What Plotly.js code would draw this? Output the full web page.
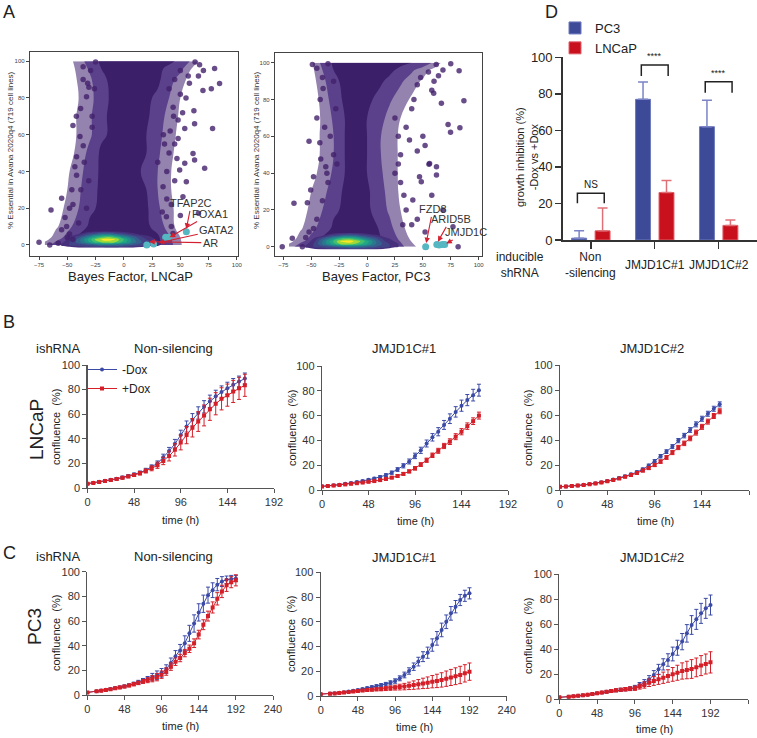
<!DOCTYPE html>
<html>
<head>
<meta charset="utf-8">
<script src="https://cdn.plot.ly/plotly-3.0.1.min.js"></script>
<style>html,body{margin:0;padding:0;background:#fff}#fig{width:757px;height:738px}</style>
</head>
<body>
<div id="fig"></div>
<script>
// ---- panel A: essentiality vs Bayes factor (point density) ----
var densX = [-70,-60,-50,-40,-30,-20,-10,0,10,20,30,40,50,60,70];
var densY = [0,4,10,20,30,40,50,60,70,80,90,96,100];
var densLNCaP = [
  [.5,.8,1,1,1,1,1,1,1,1,1,.8,.4,0,0],
  [.15,.5,.75,1,1,1,1,1,1,1,1,.7,.35,0,0],
  [0,.3,.55,.8,1,1,1,1,1,1,.85,.5,.2,0,0],
  [0,.15,.45,.65,.9,1,1,1,1,1,.7,.45,.2,.05,0],
  [0,.05,.35,.6,.85,1,1,1,1,.95,.65,.4,.15,.05,0],
  [0,0,.3,.55,.8,1,1,1,1,.9,.65,.4,.15,.05,0],
  [0,0,.2,.45,.75,1,1,1,1,.95,.7,.45,.2,.05,0],
  [0,0,.15,.4,.6,.9,1,1,1,.95,.75,.5,.25,.1,0],
  [0,0,.15,.4,.6,.9,1,1,1,1,.8,.55,.3,.1,0],
  [0,0,.1,.35,.55,.85,1,1,1,1,.9,.65,.35,.15,0],
  [0,0,.1,.4,.6,.9,1,1,1,1,1,.8,.5,.2,.05],
  [0,0,.15,.45,.7,.95,1,1,1,1,1,.9,.75,.35,.1],
  [0,0,.2,.5,.8,1,1,1,1,1,1,1,.9,.6,.2]
];
var densPC3 = [
  [.5,.8,1,1,1,1,1,1,1,.95,.75,.45,.2,0,0],
  [.15,.5,.75,1,1,1,1,1,1,.85,.6,.3,.1,0,0],
  [0,.3,.55,.8,1,1,1,1,.95,.75,.45,.2,.05,0,0],
  [0,.15,.45,.65,.9,1,1,1,.85,.6,.35,.15,.05,0,0],
  [0,.05,.35,.55,.8,1,1,1,.8,.55,.3,.15,.05,0,0],
  [0,0,.25,.45,.7,.95,1,.95,.75,.5,.3,.15,.05,0,0],
  [0,0,.2,.4,.65,.95,1,.95,.7,.5,.3,.15,.05,0,0],
  [0,0,.2,.4,.65,.95,1,.95,.7,.5,.3,.15,.05,0,0],
  [0,0,.15,.4,.7,.95,1,.95,.8,.55,.35,.2,.05,0,0],
  [0,0,.15,.45,.8,1,1,1,.9,.7,.5,.3,.15,.05,0],
  [0,0,.2,.55,.9,1,1,1,1,.9,.7,.5,.3,.15,0],
  [0,0,.25,.65,.95,1,1,1,1,1,.9,.7,.5,.25,.05],
  [0,0,.3,.75,1,1,1,1,1,1,1,.95,.85,.6,.2]
];
// bright core near zero
var blobX = [-56,-48,-40,-32,-24,-16,-8,0,8,16,24,32,40];
var blobY = [-1.5,0,1.5,3,4.5,6,7.5];
var blobLNCaP = [
  [0,.1,.15,.2,.2,.2,.2,.2,.15,.1,0,0,0],
  [.15,.25,.3,.35,.4,.45,.45,.4,.35,.3,.25,.15,.1],
  [.1,.25,.4,.6,.8,.9,.85,.7,.5,.35,.25,.15,.05],
  [.05,.2,.4,.65,.9,1,.95,.75,.5,.3,.2,.1,0],
  [0,.15,.3,.5,.7,.8,.75,.55,.4,.25,.15,.05,0],
  [0,.05,.15,.3,.4,.45,.4,.3,.2,.1,.05,0,0],
  [0,0,0,.1,.15,.2,.15,.1,.05,0,0,0,0]
];
var blobPC3 = [
  [0,.1,.15,.2,.2,.2,.2,.2,.15,.1,0,0,0],
  [.15,.25,.3,.35,.4,.45,.45,.4,.35,.3,.2,.1,.05],
  [.1,.25,.45,.65,.85,.9,.8,.65,.45,.3,.2,.1,0],
  [.05,.2,.45,.7,.95,1,.9,.7,.45,.25,.15,.05,0],
  [0,.15,.35,.55,.75,.8,.7,.5,.35,.2,.1,0,0],
  [0,.05,.15,.3,.4,.45,.4,.3,.2,.1,0,0,0],
  [0,0,0,.1,.15,.2,.15,.1,.05,0,0,0,0]
];
var outLNCaPx = [84.7,80.3,77.4,70,78.5,62.6,62,53.9,62.6,53.9,43.6,-38.2,-33,-38.8,-35.9,-41.8,-43.3,-29.4,-28,-30.9,70.4,-75,-65.5,-64.4,-41.8,-55,-50.6,-55,52.3,55.3,66,37.7,43.5,34.7,49.4,61.2,71.5,-46,-48,45,48,58,66,-36,-25,63,67,50,42,-45,-58,
  -45,-42,40,45,50,35,40,30,-38,-45,-52,-48,42,38,45,-32,-36,55,52,48,
  -35,-33,-40,-28,-26,38,36,44,50,57,34,-50,-31,41,47];
var outLNCaPy = [87.9,96,85,84,63.4,66,73,63.4,46.2,44.4,75,74.3,80.6,59,54,48,42.6,95,64,85.8,95,1.5,0,19,38,25.4,10,8.3,26.2,34.4,17.2,15.4,6.3,31.7,40.8,49.8,41.7,30,20,55,68,88,92,90,99.5,99.5,98,16,22,3,1,
  65,70,85,90,95,60,50,45,30,22,15,6,10,25,35,88,97,80,72,58,
  45,20,12,70,85,40,55,70,82,92,18,4,35,62,47];
var outPC3x = [-49,82.5,86.8,72.6,83.2,74.8,-52,-42.3,-39.4,-41.5,62.2,56,59.7,66.6,-37,47,-76,-67,-65.5,-53.5,-50.5,-58,62.2,55.5,48.6,41,68,81.6,77,-45,-40,60,68,75,-35,50,45,-45,40,52,-48,58,
  -42,-38,-30,-35,-48,30,35,40,45,55,62,30,35,45,-55,-28,28,-45,52,25,
  -33,-36,-27,-40,25,28,33,38,42,48,-52,-30,32,58,64];
var outPC3y = [99.1,95.7,79.3,66.5,64.7,62.3,57.3,56.5,86,47.7,43.5,45.3,83.4,78,43.5,38,0,4.6,23.6,24,30.8,0,39,44.8,35.3,25.4,20,0,10.9,70,92,90,96,99.5,99.5,60,52,15,12,8,38,28,
  80,65,50,35,10,50,65,75,88,95,99,35,20,15,5,75,60,97,55,40,
  60,40,45,25,70,45,28,58,80,92,8,90,12,85,93];
var hiLNCaPx = [55.3,37,39.5,20.3,26.4];
var hiLNCaPy = [7.2,4.2,4.2,0,0.5];
var hiPC3x = [52.5,62.5,64.5,67.5,69.6];
var hiPC3y = [0,1.3,1.0,1.3,1.3];
var genesLNCaP = ['TFAP2C','FOXA1','GATA2','AR'];
var genesPC3 = ['FZD8','ARID5B','JMJD1C'];

// ---- panel D: growth inhibition ----
var shCats = ['Non<br>-silencing','JMJD1C#1','JMJD1C#2'];
var pc3Inhib = [1, 77, 62];
var pc3Err = [4, 9.5, 14.5];
var lncapInhib = [5, 26, 8];
var lncapErr = [12.5, 6.5, 3];
var sigText = ['NS','****','****'];

// ---- panels B / C: confluence time courses ----
var tB = [0,6,12,18,24,30,36,42,48,54,60,66,72,78,84,90,96,102,108,114,120,126,132,138,144,150,156,162];
var tC = [0,12,18,24,30,36,42,48,54,60,66,72,78,84,90,96,102,108,114,120,126,132,138,144,150,156,162,168,174,180,186,192];

var lnNsMinus = [3.5,4.2,5,5.8,6.8,7.6,8.6,9.8,11,12.5,14.5,17,20,25,30,36,43,50,55.5,61,66,70.5,74.5,78,81,84,86.5,89];
var lnNsMinusE = [0.5,0.5,0.6,0.7,0.8,0.9,1,1,1.2,1.3,1.5,1.8,2,2.5,3,3.5,4,4.5,5,5,5,5,5,5,5,5,4.5,4.5];
var lnNsPlus = [3.5,4.1,4.8,5.6,6.5,7.3,8.3,9.4,10.6,12,13.8,16,18.5,22,26,31,37,43,49,54,59,64,68.5,72.5,75.5,78.5,81,83.5];
var lnNsPlusE = [0.5,0.5,0.6,0.7,0.8,0.9,1,1,1.2,1.4,1.6,2,2.5,3,4,5,6,7,7.5,8,8.5,9,9,9,9,9,9,9];

var ln1Minus = [3,3.3,3.8,4.3,5,5.7,6.5,7.3,8.2,9.3,10.5,12,14,16.5,19.5,23,27.5,32,37.5,42.5,47,52.5,57.5,63,68,72.5,76.5,80.5];
var ln1MinusE = [0.4,0.4,0.4,0.5,0.5,0.6,0.6,0.7,0.8,0.9,1,1.1,1.3,1.5,1.7,2,2.2,2.5,2.8,3,3.3,3.6,3.9,4.2,4.5,4.5,4.7,4.8];
var ln1Plus = [2.8,3.2,3.6,4,4.5,5,5.5,6,6.6,7.2,8,8.9,10,11.3,13,15,17.5,20.5,24,28,31.6,35.5,39,43,47,51.5,55.5,60];
var ln1PlusE = [0.3,0.3,0.3,0.4,0.4,0.4,0.5,0.5,0.6,0.6,0.7,0.8,0.9,1,1.1,1.2,1.4,1.5,1.7,1.8,2,2.1,2.3,2.4,2.5,2.6,2.7,2.8];

var ln2Minus = [2.5,2.8,3.2,3.6,4.1,4.7,5.4,6.2,7.2,8.3,9.6,11,12.5,14.3,16.5,19.5,23,27,30.7,34.7,39.5,43.5,48,52.5,57,61,65,68.5];
var ln2MinusE = [0.3,0.3,0.3,0.4,0.4,0.4,0.5,0.5,0.6,0.6,0.7,0.8,0.9,1,1.1,1.2,1.3,1.4,1.5,1.6,1.7,1.8,1.9,2,2,2,2,2];
var ln2Plus = [2.5,2.8,3.1,3.5,4,4.6,5.2,6,7,8,9.2,10.5,12,13.5,15.5,17.5,20,22.7,26,29.9,34,37.3,41.3,45.9,50.5,54.7,59.2,63];
var ln2PlusE = [0.3,0.3,0.3,0.4,0.4,0.4,0.5,0.5,0.6,0.6,0.7,0.8,0.9,1,1.1,1.2,1.3,1.4,1.5,1.6,1.7,1.8,1.9,2,2,2,2,2];

var pcNsMinus = [2,3,3.6,4.2,4.9,5.6,6.3,7,8,9.2,10.5,11.8,13,14.5,16,18,21,26,31.5,36,42,50,58,67,74,81,85,89.5,92,93.5,94,94.5];
var pcNsMinusE = [0.5,0.5,0.5,0.6,0.7,0.8,0.9,1,1,1.2,1.4,1.6,2,3,3.5,3.5,3.5,4,4.5,5,6,6.5,7,7,7,6.5,6,5,4,3,3,2.5];
var pcNsPlus = [2,3,3.5,4.1,4.7,5.4,6.1,6.8,7.7,8.7,9.8,11,12,13.2,14.5,16.5,19,23,27,30,34,37.5,42,49,57,64,71,78,84,89,91.5,93];
var pcNsPlusE = [0.5,0.5,0.5,0.6,0.7,0.8,0.9,1,1,1.2,1.4,1.6,2,2.5,3,3,3,3,3,3,3,3,3.5,3.5,4,4,4.5,5,5,5,4.5,4.5];

var pc1Minus = [1.5,2,2.3,2.7,3.1,3.6,4.2,4.9,5.6,6.4,7.2,8,8.8,9.6,10.7,12.1,14.3,17,20.2,23.7,27.8,31.8,35,41.2,46.6,53.4,60,66.8,72.2,77.6,81,83];
var pc1MinusE = [0.3,0.3,0.4,0.4,0.5,0.5,0.6,0.7,0.8,0.9,1,1.1,1.2,1.4,1.6,1.8,2,2.3,2.6,3,3.5,4,4.5,5,5.5,5.5,5.5,5.5,5,4.5,4.5,4.5];
var pc1Plus = [1.5,1.8,2.1,2.4,2.8,3.2,3.6,4,4.4,4.8,5.1,5.4,5.6,6,6.4,6.8,7.2,7.6,8.2,8.8,9.5,10.2,10.8,11.6,12.2,13,14,15,16,17,18.3,19.7];
var pc1PlusE = [0.3,0.3,0.4,0.4,0.5,0.5,0.6,0.7,0.8,0.9,1,1.2,1.4,1.6,1.8,2,2.3,2.6,3,3.4,3.8,4.2,4.6,5,5.4,5.8,6.2,6.5,6.8,7,7,7];

var pc2Minus = [1.3,1.8,2.1,2.5,2.9,3.4,3.9,4.5,5.1,5.7,6.3,6.9,7.3,7.8,8.3,9.2,11.2,13,15.7,19.2,23.7,27.7,31.2,36,41,45.9,52.5,59.2,63.7,68.5,72.5,75.2];
var pc2MinusE = [0.3,0.3,0.4,0.4,0.5,0.5,0.6,0.7,0.8,0.9,1,1.1,1.2,1.3,1.5,1.7,2,2.5,3,3.5,4,4.5,5,5.5,6,6.5,7,7.5,8,8,8,8];
var pc2Plus = [1.3,1.8,2.1,2.5,2.9,3.4,3.9,4.5,5.1,5.7,6.3,6.9,7.4,7.8,8.2,8.6,9.9,11.2,13,14.4,15.7,17,18.4,19.7,21,22.4,23.2,24,25.3,26.7,28,29.3];
var pc2PlusE = [0.3,0.3,0.4,0.4,0.5,0.5,0.6,0.7,0.8,0.9,1,1.1,1.2,1.3,1.5,1.7,2,2.5,3,3.5,4,4.5,5,5.5,6,6.5,7,7.5,7.5,8,8,8.5];

var W = 757, H = 738;
var FONT = 'Liberation Sans, Arial, Helvetica, sans-serif';
var BLUE = '#3b4aa6', RED = '#d41f29';
function dx(a, b) { return [a / W, b / W]; }
function dy(top, bot) { return [1 - bot / H, 1 - top / H]; }

// contour fill: colorscale is spread over the bands (0 = below first level)
var clear = 'rgba(255,255,255,0)';
var purpleScale = [[0,clear],[0.2,clear],[0.3,'#9483ae'],[0.36,'#9483ae'],[0.64,'#5b418b'],[0.7,'#5b418b'],[1,'#3c1f69']];
var viridisScale = [[0,clear],[0.05,clear],[1/9,'#46307c'],[2/9,'#414487'],[3/9,'#355f8d'],[4/9,'#2a788e'],
  [5/9,'#21918c'],[6/9,'#22a884'],[7/9,'#44bf70'],[8/9,'#a0da39'],[1,'#fde725']];

var data = [];
function addScatterPanel(dens, blob, ox, oy, hx, hy, xa, ya) {
  data.push({type:'contour', x:densX, y:densY, z:dens, zmin:0, zmax:1, autocontour:false,
    contours:{start:0.35, end:0.95, size:0.3, coloring:'fill', showlines:false},
    line:{width:0, smoothing:1.2}, colorscale:purpleScale, showscale:false, hoverinfo:'skip', xaxis:xa, yaxis:ya});
  data.push({type:'contour', x:blobX, y:blobY, z:blob, zmin:0, zmax:1, autocontour:false,
    contours:{start:0.15, end:0.95, size:0.1, coloring:'fill', showlines:false},
    line:{width:0, smoothing:1.2}, colorscale:viridisScale, showscale:false, hoverinfo:'skip', xaxis:xa, yaxis:ya});
  data.push({type:'scatter', mode:'markers', x:ox, y:oy, xaxis:xa, yaxis:ya, showlegend:false,
    marker:{size:5.5, color:'rgba(66,32,108,0.8)'}, hoverinfo:'skip'});
  data.push({type:'scatter', mode:'markers', x:hx, y:hy, xaxis:xa, yaxis:ya, showlegend:false,
    marker:{size:7, color:'#55b7c2'}, hoverinfo:'skip'});
}
addScatterPanel(densLNCaP, blobLNCaP, outLNCaPx, outLNCaPy, hiLNCaPx, hiLNCaPy, 'x', 'y');
addScatterPanel(densPC3, blobPC3, outPC3x, outPC3y, hiPC3x, hiPC3y, 'x2', 'y2');

// bars (panel D)
var barW = 0.234;
data.push({type:'bar', name:'PC3', x:[0,1,2], y:pc3Inhib, width:barW, offset:-0.3, xaxis:'x3', yaxis:'y3',
  marker:{color:'#3d4a98', line:{color:'#6f79bd', width:1}},
  error_y:{type:'data', symmetric:false, array:pc3Err, arrayminus:[0,0,0], color:'#7a84c6', thickness:1.5, width:5}});
data.push({type:'bar', name:'LNCaP', x:[0,1,2], y:lncapInhib, width:barW, offset:0.067, xaxis:'x3', yaxis:'y3',
  marker:{color:'#c8111d', line:{color:'#e0606a', width:1}},
  error_y:{type:'data', symmetric:false, array:lncapErr, arrayminus:[0,0,0], color:'#e07078', thickness:1.5, width:5}});

function addCurves(t, bm, bmE, bp, bpE, xa, ya, leg) {
  data.push({type:'scatter', mode:'lines+markers', name:'-Dox', x:t, y:bm, xaxis:xa, yaxis:ya,
    showlegend:leg, legend:'legend2', line:{color:BLUE, width:1}, marker:{color:BLUE, size:4, symbol:'circle'},
    error_y:{type:'data', array:bmE, color:BLUE, thickness:1, width:2}});
  data.push({type:'scatter', mode:'lines+markers', name:'+Dox', x:t, y:bp, xaxis:xa, yaxis:ya,
    showlegend:leg, legend:'legend2', line:{color:RED, width:1}, marker:{color:RED, size:4, symbol:'square'},
    error_y:{type:'data', array:bpE, color:RED, thickness:1, width:2}});
}
addCurves(tB, lnNsMinus, lnNsMinusE, lnNsPlus, lnNsPlusE, 'x4', 'y4', true);
addCurves(tB, ln1Minus, ln1MinusE, ln1Plus, ln1PlusE, 'x5', 'y5', false);
addCurves(tB, ln2Minus, ln2MinusE, ln2Plus, ln2PlusE, 'x6', 'y6', false);
addCurves(tC, pcNsMinus, pcNsMinusE, pcNsPlus, pcNsPlusE, 'x7', 'y7', false);
addCurves(tC, pc1Minus, pc1MinusE, pc1Plus, pc1PlusE, 'x8', 'y8', false);
addCurves(tC, pc2Minus, pc2MinusE, pc2Plus, pc2PlusE, 'x9', 'y9', false);

function boxAxis(domain, range, vals, anchor) {
  return {domain:domain, range:range, tickvals:vals, anchor:anchor, showline:true, mirror:true,
    linecolor:'#444', linewidth:1.2, ticks:'outside', ticklen:3, tickcolor:'#444', automargin:false,
    tickfont:{size:6, color:'#444'}, zeroline:false, showgrid:false};
}
function growthAxis(domain, range, vals, anchor) {
  return {domain:domain, range:range, tickvals:vals, anchor:anchor, showline:true, automargin:false,
    linecolor:'#555', linewidth:1.2, ticks:'outside', ticklen:4, tickcolor:'#555',
    tickfont:{size:11, color:'#333'}, zeroline:false, showgrid:false};
}
var bfTicks = [-75,-50,-25,0,25,50,75,100];
var pctTicks = [0,20,40,60,80,100];
var tTicksB = [0,48,96,144,192];
var tTicksC = [0,48,96,144,192,240];

var layout = {
  width:W, height:H, margin:{l:0, r:0, t:0, b:0, pad:0, autoexpand:false},
  paper_bgcolor:'#fff', plot_bgcolor:'rgba(0,0,0,0)',
  font:{family:FONT, color:'#222'},
  barmode:'overlay',
  xaxis: boxAxis(dx(30,238), [-83,101], bfTicks, 'y'),
  yaxis: boxAxis(dy(52,256), [-6,105], pctTicks, 'x'),
  xaxis2: boxAxis(dx(275,482), [-82.5,103], bfTicks, 'y2'),
  yaxis2: boxAxis(dy(53,256), [-5,105.3], pctTicks, 'x2'),
  xaxis3: {domain:dx(562.7,757), range:[-0.44,2.6], anchor:'y3', tickvals:[0,1,2], showticklabels:false,
    showline:true, linecolor:'#333', linewidth:1.5, ticks:'outside', ticklen:7, tickwidth:1.5, tickcolor:'#333',
    zeroline:false, showgrid:false, automargin:false},
  yaxis3: {domain:dy(57.3,240), range:[0,100], anchor:'x3', tickvals:pctTicks, showline:true, linecolor:'#333',
    linewidth:1.5, ticks:'outside', ticklen:6, tickwidth:1.5, tickcolor:'#333', tickfont:{size:13, color:'#222'},
    zeroline:false, showgrid:false, automargin:false},
  xaxis4: growthAxis(dx(87.5,274), [0,192], tTicksB, 'y4'),
  yaxis4: growthAxis(dy(365,488), [0,100], pctTicks, 'x4'),
  xaxis5: growthAxis(dx(322,508), [0,192], tTicksB, 'y5'),
  yaxis5: growthAxis(dy(366,490), [0,100], pctTicks, 'x5'),
  xaxis6: growthAxis(dx(560,749.3), [0,192], tTicksB, 'y6'),
  yaxis6: growthAxis(dy(365,490), [0,100], pctTicks, 'x6'),
  xaxis7: growthAxis(dx(87.3,273), [0,240], tTicksC, 'y7'),
  yaxis7: growthAxis(dy(571.7,695), [0,100], pctTicks, 'x7'),
  xaxis8: growthAxis(dx(320.7,506.7), [0,240], tTicksC, 'y8'),
  yaxis8: growthAxis(dy(572.3,696), [0,100], pctTicks, 'x8'),
  xaxis9: growthAxis(dx(559.3,748.3), [0,240], tTicksC, 'y9'),
  yaxis9: growthAxis(dy(574,699), [0,100], pctTicks, 'x9'),
  legend: {x:555/W, y:1-13/H, xanchor:'left', yanchor:'top', font:{size:13, color:'#222'},
    bgcolor:'rgba(0,0,0,0)', tracegroupgap:0},
  legend2: {x:82/W, y:1-355/H, xanchor:'left', yanchor:'top', font:{size:12, color:'#222'},
    bgcolor:'rgba(0,0,0,0)', tracegroupgap:0},
  shapes: [],
  annotations: []
};

function note(text, xp, yp, size, extra) {
  var a = {text:text, x:xp / W, y:1 - yp / H, xref:'paper', yref:'paper', showarrow:false,
    xanchor:'center', yanchor:'middle', font:{size:size, color:'#222', family:FONT}};
  for (var k in extra) a[k] = extra[k];
  layout.annotations.push(a);
}
// panel letters
note('A', 9, 12, 18, {});
note('B', 9, 322, 18, {});
note('C', 9, 553, 18, {});
note('D', 551, 12, 18, {});
// panel A titles
note('Bayes Factor, LNCaP', 130, 276, 13, {});
note('Bayes Factor, PC3', 376, 276, 13, {});
var ess = '% Essential in Avana 2020q4 (719 cell lines)';
note(ess, 10, 150, 8, {textangle:-90, font:{size:8, color:'#333', family:FONT}});
note(ess, 256, 150, 8, {textangle:-90, font:{size:8, color:'#333', family:FONT}});

function geneNote(text, hx, hy, tx, ty, xa, ya) {
  layout.annotations.push({text:text, x:hx, y:hy, ax:tx, ay:ty, xref:xa, yref:ya, axref:xa, ayref:ya,
    showarrow:true, arrowhead:2, arrowsize:1, arrowwidth:1.1, arrowcolor:'#d42030',
    font:{size:11, color:'#333', family:FONT}});
}
geneNote(genesLNCaP[0], 55.3, 8.8, 59.8, 22.6, 'x', 'y');
geneNote(genesLNCaP[1], 40.5, 4.2, 76.5, 16.8, 'x', 'y');
geneNote(genesLNCaP[2], 31, 1.2, 81.8, 8.1, 'x', 'y');
geneNote(genesLNCaP[3], 22.5, 1.8, 76.5, 1.2, 'x', 'y');
geneNote(genesPC3[0], 53, 2, 59, 20.3, 'x2', 'y2');
geneNote(genesPC3[1], 63.5, 2.8, 74.8, 14.9, 'x2', 'y2');
geneNote(genesPC3[2], 71, 1.8, 89, 7.8, 'x2', 'y2');

// panel D text
note('growth inhibition (%)<br>-Dox vs +Dox', 527, 157, 11, {textangle:-90});
note('inducible<br>shRNA', 520, 265, 12, {});
for (var i = 0; i < shCats.length; i++) {
  layout.annotations.push({text:shCats[i], x:i, y:1 - 265 / H, xref:'x3', yref:'paper', showarrow:false,
    xanchor:'center', yanchor:'middle', font:{size:12, color:'#222', family:FONT}});
}
var brLo = [20.1, 89.8, 80.6], brHi = [25.6, 95.8, 86.6];
for (var j = 0; j < 3; j++) {
  var a0 = j - 0.21, a1 = j + 0.21;
  layout.shapes.push({type:'path', xref:'x3', yref:'y3',
    path:'M' + a0 + ',' + brLo[j] + ' L' + a0 + ',' + brHi[j] + ' L' + a1 + ',' + brHi[j] + ' L' + a1 + ',' + brLo[j],
    line:{color:'#222', width:1.5}});
  layout.annotations.push({text:sigText[j], x:j, y:brHi[j] + 3, xref:'x3', yref:'y3', showarrow:false,
    xanchor:'center', yanchor:'bottom', yshift:-4, font:{size:j === 0 ? 10 : 9, color:'#222', family:FONT}});
}

// panels B / C text
note('ishRNA', 58, 348, 13, {});
note('ishRNA', 58, 556, 13, {});
note('Non-silencing', 173, 348, 13, {});
note('JMJD1C#1', 404, 348, 13, {});
note('JMJD1C#2', 652, 348, 13, {});
note('Non-silencing', 173, 556, 13, {});
note('JMJD1C#1', 404, 557, 13, {});
note('JMJD1C#2', 652, 557, 13, {});
note('LNCaP', 37, 430, 19, {textangle:-90});
note('PC3', 34, 627, 19, {textangle:-90});
var ylabX = [56, 292, 528, 56, 291, 528];
var ylabY = [427, 428, 428, 633, 634, 636];
var xlabX = [180, 415, 655, 180, 414, 654];
var xlabY = [520, 521, 521, 726, 727, 729];
for (var m = 0; m < 6; m++) {
  note('confluence  (%)', ylabX[m], ylabY[m], 11, {textangle:-90});
  note('time (h)', xlabX[m], xlabY[m], 11, {});
}

Plotly.newPlot('fig', data, layout, {staticPlot:true});
</script>
</body>
</html>
